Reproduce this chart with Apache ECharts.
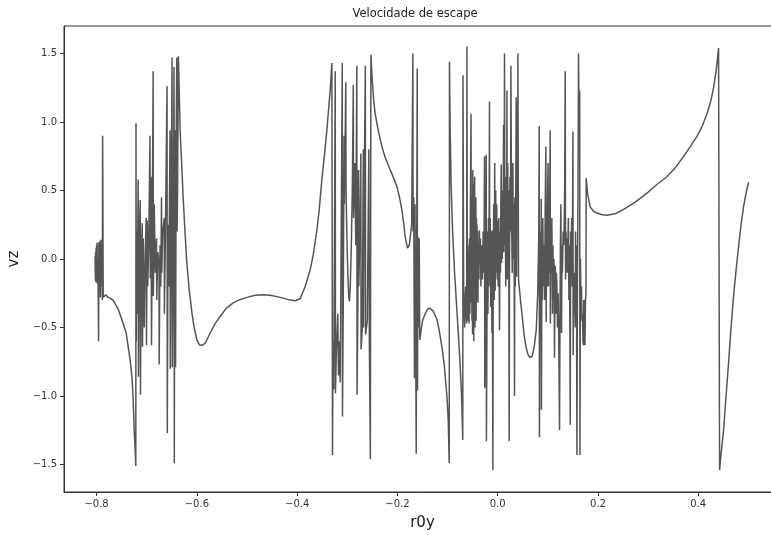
<!DOCTYPE html>
<html>
<head>
<meta charset="utf-8">
<script src="https://cdn.jsdelivr.net/npm/echarts@6/dist/echarts.min.js"></script>
<style>
html,body{margin:0;padding:0;background:#fff;}
#chart{width:771px;height:535px;}
</style>
</head>
<body>
<div id="chart"></div>
<script>
// ---- data ----
const r0y = [
  // start cluster near -0.80 and descent
  -0.8030,-0.8025,-0.8020,-0.8015,-0.8010,-0.8005,-0.8000,-0.7995,-0.7990,-0.7985,
  -0.7975,-0.7960,-0.7955,-0.7945,-0.7935,-0.7925,-0.7915,-0.7905,-0.7895,-0.7885,
  -0.7880,-0.7875,-0.7868,-0.7850,-0.7820,-0.7790,-0.7770,-0.7670,-0.7570,-0.7470,
  -0.7410,-0.7370,-0.7330,-0.7290,-0.7270,-0.7250,-0.7230,-0.7218,
  // chaotic region 1
  -0.7214,-0.7208,-0.7200,-0.7190,-0.7170,-0.7165,-0.7150,-0.7130,-0.7125,-0.7110,
  -0.7090,-0.7085,-0.7070,-0.7050,-0.7030,-0.7010,-0.7005,-0.6990,-0.6980,-0.6960,
  -0.6935,-0.6930,-0.6915,-0.6905,-0.6890,-0.6872,-0.6868,-0.6850,-0.6830,-0.6805,
  -0.6800,-0.6780,-0.6755,-0.6752,-0.6735,-0.6720,-0.6705,-0.6700,-0.6680,-0.6650,
  -0.6648,-0.6630,-0.6595,-0.6590,-0.6575,-0.6560,-0.6535,-0.6530,-0.6510,-0.6495,
  -0.6490,-0.6470,-0.6455,-0.6450,-0.6440,-0.6430,-0.6425,-0.6410,-0.6400,-0.6395,
  -0.6385,-0.6368,
  // smooth valley and rise
  -0.6334,-0.6304,-0.6274,-0.6234,-0.6200,-0.6154,-0.6100,-0.6054,-0.6000,-0.5954,
  -0.5900,-0.5834,-0.5734,-0.5634,-0.5534,-0.5415,-0.5275,-0.5136,-0.5003,-0.4837,
  -0.4697,-0.4538,-0.4339,-0.4139,-0.4040,-0.3940,-0.3840,-0.3740,-0.3680,-0.3606,
  -0.3560,-0.3507,-0.3461,-0.3407,-0.3371,-0.3341,-0.3307,
  // chaotic region 2
  -0.3300,-0.3295,-0.3285,-0.3270,-0.3240,-0.3236,-0.3220,-0.3190,-0.3176,-0.3165,
  -0.3140,-0.3100,-0.3096,-0.3080,-0.3065,-0.3060,-0.3045,-0.3030,-0.3025,-0.3010,
  -0.2990,-0.2970,-0.2956,-0.2940,-0.2920,-0.2900,-0.2880,-0.2875,-0.2850,-0.2830,
  -0.2810,-0.2805,-0.2790,-0.2777,-0.2770,-0.2750,-0.2730,-0.2725,-0.2700,-0.2680,
  -0.2675,-0.2660,-0.2640,-0.2635,-0.2600,-0.2570,-0.2560,-0.2540,-0.2529,
  // shoulder and dip
  -0.2503,-0.2474,-0.2444,-0.2384,-0.2310,-0.2244,-0.2144,-0.2075,-0.2011,-0.1965,
  -0.1911,-0.1875,-0.1845,-0.1799,-0.1765,-0.1745,-0.1716,
  // chaotic region 2b
  -0.1692,-0.1688,-0.1675,-0.1660,-0.1650,-0.1640,-0.1625,-0.1615,-0.1605,-0.1600,
  -0.1590,-0.1580,-0.1565,-0.1555,-0.1500,
  // hump and dive
  -0.1446,-0.1396,-0.1347,-0.1287,-0.1213,-0.1167,-0.1113,-0.1067,-0.1013,-0.0987,
  -0.0967,
  // chaotic region 3
  -0.0962,-0.0950,-0.0930,-0.0900,-0.0860,-0.0810,-0.0760,-0.0720,-0.0697,-0.0692,
  -0.0680,-0.0660,-0.0640,-0.0620,-0.0614,-0.0606,-0.0598,-0.0590,-0.0580,-0.0572,
  -0.0564,-0.0556,-0.0546,-0.0532,-0.0526,-0.0520,-0.0514,-0.0508,-0.0502,-0.0496,
  -0.0490,-0.0484,-0.0478,-0.0472,-0.0466,-0.0460,-0.0454,-0.0448,-0.0442,-0.0436,
  -0.0430,-0.0424,-0.0418,-0.0412,-0.0406,-0.0400,-0.0394,-0.0385,-0.0375,-0.0365,
  -0.0355,-0.0345,-0.0335,-0.0320,-0.0305,-0.0290,-0.0275,-0.0263,-0.0258,-0.0248,
  -0.0240,-0.0229,-0.0225,-0.0215,-0.0205,-0.0195,-0.0185,-0.0175,-0.0164,-0.0160,
  -0.0150,-0.0140,-0.0128,-0.0116,-0.0110,-0.0096,-0.0090,-0.0080,-0.0070,-0.0060,
  -0.0050,-0.0040,-0.0030,-0.0020,-0.0010,0.0000,0.0010,0.0022,0.0036,0.0045,
  0.0055,0.0063,0.0070,0.0076,0.0085,0.0092,0.0100,0.0108,0.0116,0.0122,
  0.0130,0.0136,0.0142,0.0150,0.0160,0.0170,0.0178,0.0184,0.0190,0.0200,
  0.0210,0.0218,0.0229,0.0235,0.0245,0.0255,0.0263,0.0270,0.0280,0.0290,
  0.0297,0.0303,0.0310,0.0320,0.0328,0.0335,0.0342,0.0350,0.0358,0.0369,
  0.0376,0.0385,0.0395,0.0403,0.0415,0.0449,0.0489,0.0529,0.0569,0.0608,
  0.0648,0.0688,0.0728,0.0768,0.0798,0.0818,0.0828,0.0832,0.0842,0.0852,
  0.0860,0.0868,0.0872,0.0882,0.0890,0.0900,0.0910,0.0920,0.0935,0.0948,
  0.0960,0.0967,0.0977,0.0985,0.0995,0.1005,0.1013,0.1022,0.1032,0.1040,
  0.1047,0.1050,0.1060,0.1070,0.1080,0.1093,0.1102,0.1112,0.1122,0.1133,
  0.1140,0.1150,0.1160,0.1170,0.1181,0.1192,0.1205,0.1218,0.1233,0.1240,
  0.1250,0.1260,0.1267,0.1273,0.1282,0.1290,0.1305,0.1320,0.1335,0.1347,
  0.1353,0.1362,0.1370,0.1378,0.1386,0.1398,0.1410,0.1420,0.1432,0.1446,
  0.1455,0.1465,0.1475,0.1485,0.1492,0.1500,0.1505,0.1512,0.1520,0.1530,
  0.1546,0.1553,0.1560,0.1570,0.1580,0.1590,0.1600,0.1612,0.1620,0.1635,
  0.1640,0.1650,0.1660,0.1670,0.1680,0.1690,0.1700,0.1712,0.1715,0.1720,
  0.1730,0.1740,0.1750,0.1760,0.1765,
  // smooth right part
  0.1795,0.1845,0.1905,0.1979,0.2065,0.2178,0.2344,0.2504,0.2743,0.2976,
  0.3162,0.3375,0.3541,0.3700,0.3840,0.3974,0.4080,0.4173,0.4249,0.4305,
  0.4359,0.4405,0.4425,0.4458,0.4504,0.4554,0.4604,0.4654,0.4704,0.4754,
  0.4804,0.4853,0.4903,0.4953,0.5003
];
const vz = [
  0.02,-0.15,0.05,-0.17,0.08,-0.12,0.10,-0.05,0.12,-0.18,
  0.00,-0.60,0.12,-0.10,0.13,-0.28,0.14,-0.20,0.10,-0.30,
  0.90,0.50,-0.28,-0.27,-0.26,-0.27,-0.28,-0.30,-0.365,-0.47,
  -0.54,-0.64,-0.74,-0.88,-1.03,-1.25,-1.40,-1.51,
  0.99,-0.60,0.20,-0.40,0.58,-0.86,0.10,0.43,-0.99,0.00,
  0.26,-0.64,0.15,-0.50,0.05,0.30,-0.63,0.28,-0.20,0.10,
  0.90,-0.14,0.60,-0.63,0.20,1.37,-0.27,0.40,-0.10,0.15,
  -0.30,0.05,-0.03,-0.77,0.10,-0.20,0.45,-0.10,0.20,0.30,
  -0.40,0.10,1.26,-1.27,0.25,-0.20,0.94,-0.80,0.50,1.47,
  -0.79,0.20,1.40,-1.49,0.80,0.94,-0.79,1.00,1.47,0.20,
  0.50,1.48,
  0.94,0.70,0.45,0.18,-0.03,-0.22,-0.39,-0.50,-0.59,-0.625,
  -0.63,-0.615,-0.54,-0.47,-0.42,-0.36,-0.32,-0.295,-0.28,-0.265,
  -0.26,-0.265,-0.28,-0.30,-0.305,-0.29,-0.20,-0.08,0.03,0.21,
  0.36,0.58,0.74,0.94,1.10,1.23,1.43,
  1.43,-1.43,-0.60,-0.95,1.37,-0.98,-0.70,-0.40,-0.85,-0.60,
  -0.90,1.43,-1.15,-0.30,0.90,0.40,0.80,1.29,0.50,0.20,
  -0.10,-0.28,-0.31,-0.20,0.10,0.50,1.27,0.30,0.70,0.10,
  1.41,-0.99,-0.40,0.65,-0.20,0.20,0.77,-0.66,-0.50,0.80,
  -0.50,0.60,1.41,-0.55,-0.45,0.80,-0.60,-1.46,1.49,
  1.31,1.16,1.06,0.94,0.82,0.74,0.65,0.59,0.53,0.46,
  0.36,0.26,0.16,0.08,0.10,0.16,0.25,
  1.50,0.20,0.45,-0.87,0.40,-0.30,-1.42,0.10,1.39,-0.96,
  0.16,-0.50,0.15,-0.59,-0.45,
  -0.40,-0.365,-0.36,-0.38,-0.44,-0.52,-0.64,-0.77,-1.00,-1.17,
  -1.49,
  1.44,1.00,0.55,0.20,-0.10,-0.40,-0.70,-1.00,-1.32,1.34,
  -0.20,-0.50,-0.20,-0.47,1.55,-0.30,0.10,-0.45,0.05,-0.47,
  0.15,-0.40,0.30,1.06,-0.32,0.45,-0.45,0.30,-0.55,0.65,
  -0.40,0.55,-0.60,0.40,-0.30,0.60,-0.50,0.35,-0.20,0.45,
  -0.45,0.30,-0.10,0.25,-0.30,0.20,-0.32,0.10,-0.15,0.21,
  -0.03,0.15,-0.20,0.10,-0.15,0.20,-0.10,0.75,-0.94,0.20,
  -0.30,0.76,-1.33,-0.50,0.20,-0.40,0.30,-0.20,1.15,-0.10,
  0.30,-0.35,0.20,-0.54,0.21,-1.54,-0.20,0.40,-0.30,0.70,
  -0.23,0.50,-0.10,0.40,-0.15,0.28,-0.20,0.30,-0.52,0.20,
  -0.10,0.40,0.69,-0.03,0.40,0.00,0.50,0.10,0.98,0.05,
  0.60,1.50,0.10,0.60,-0.20,0.55,0.00,1.23,-0.15,0.70,
  0.10,0.50,-1.33,-0.01,0.60,0.20,1.41,0.82,0.20,-0.10,
  0.50,0.70,0.00,0.40,-0.03,-1.00,0.45,-0.20,0.30,1.18,
  -0.13,0.40,0.20,1.50,-0.15,-0.28,-0.42,-0.56,-0.65,-0.70,
  -0.72,-0.71,-0.64,-0.52,-0.25,0.15,0.97,-1.30,-0.30,0.20,
  -0.40,0.44,-1.10,0.10,-0.30,0.30,-0.20,0.10,-0.30,0.40,
  0.82,-0.46,0.30,-0.20,0.50,0.70,-0.20,0.40,-0.10,0.60,
  0.94,-0.47,0.20,-0.10,0.30,-0.40,0.10,-0.30,0.00,-0.72,
  -0.30,-0.05,-0.40,-0.10,-0.20,-0.50,-0.25,-0.60,-1.25,-0.60,
  0.10,0.40,-0.30,-0.54,0.10,-0.10,0.20,0.10,0.50,1.37,
  -0.15,0.20,0.00,0.15,-0.10,0.10,0.30,-0.30,0.10,-1.21,
  0.20,-0.10,0.30,-0.20,0.20,0.93,-0.70,-0.20,-0.40,-0.10,
  -0.50,0.20,-0.20,0.10,-1.43,-0.20,0.40,1.50,1.06,1.23,
  -1.43,0.00,-0.30,-0.20,-0.45,-0.40,-0.60,-0.63,-0.30,-0.63,
  -0.30,-0.63,-0.30,-0.25,0.59,
  0.47,0.38,0.35,0.335,0.325,0.32,0.33,0.36,0.415,0.48,
  0.54,0.60,0.665,0.745,0.82,0.895,0.97,1.06,1.15,1.25,
  1.38,1.54,-1.54,-1.41,-1.25,-1.00,-0.76,-0.50,-0.27,-0.08,
  0.09,0.25,0.38,0.48,0.56
];
const xTicks = [-0.8,-0.6,-0.4,-0.2,0.0,0.2,0.4];
const yTicks = [-1.5,-1.0,-0.5,0.0,0.5,1.0,1.5];
const titleText = 'Velocidade de escape';
const xName = 'r0y';
const yName = 'vz';

if (r0y.length !== vz.length) console.error('length mismatch', r0y.length, vz.length);
const points = r0y.map((x, i) => [x, vz[i]]);
const fmt = v => (v < 0 ? '\u2212' : '') + Math.abs(v).toFixed(1);

const chart = echarts.init(document.getElementById('chart'), null, {renderer: 'canvas'});
const axisColor = '#333';
chart.setOption({
  animation: false,
  backgroundColor: '#fff',
  title: {
    text: titleText, left: 415, top: 8, textAlign: 'center', padding: 0,
    textStyle: {fontFamily: 'DejaVu Sans', fontSize: 11.5, fontWeight: 'normal', color: '#222'}
  },
  grid: {left: 64, top: 26, right: -10, bottom: 43, outerBoundsMode: 'none', containLabel: false,
         show: true, borderColor: axisColor, borderWidth: 1, backgroundColor: 'transparent'},
  xAxis: {
    type: 'value', min: -0.865, max: 0.565,
    name: xName, nameLocation: 'middle', nameGap: 24,
    nameTextStyle: {fontFamily: 'DejaVu Sans', fontSize: 15, color: '#222'},
    axisLine: {show: true, onZero: false, lineStyle: {color: axisColor, width: 1}},
    axisTick: {show: true, length: 4, lineStyle: {color: axisColor}, customValues: xTicks},
    axisLabel: {customValues: xTicks, formatter: fmt, fontFamily: 'DejaVu Sans', fontSize: 10, color: '#333', margin: 7},
    splitLine: {show: false}
  },
  yAxis: {
    type: 'value', min: -1.70, max: 1.70,
    name: yName, nameLocation: 'middle', nameGap: 37, nameRotate: 90,
    nameTextStyle: {fontFamily: 'DejaVu Sans', fontSize: 15, color: '#222'},
    axisLine: {show: true, onZero: false, lineStyle: {color: axisColor, width: 1}},
    axisTick: {show: true, length: 4, lineStyle: {color: axisColor}, customValues: yTicks},
    axisLabel: {customValues: yTicks, formatter: fmt, fontFamily: 'DejaVu Sans', fontSize: 10, color: '#333', margin: 7},
    splitLine: {show: false}
  },
  series: [{
    type: 'line', data: points, showSymbol: false, symbol: 'none',
    sampling: null, smooth: false,
    lineStyle: {color: '#555', width: 1.5},
    clip: true
  }]
});
</script>
</body>
</html>
